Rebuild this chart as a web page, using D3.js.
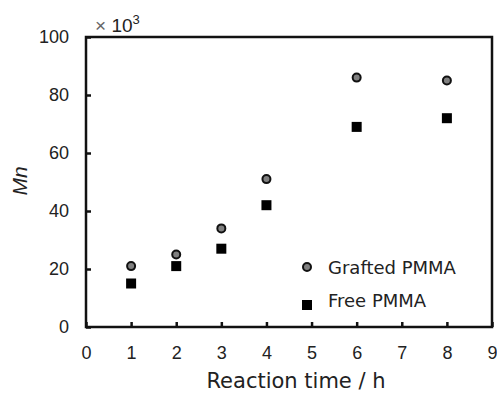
<!DOCTYPE html>
<html lang="en">
<head>
<meta charset="UTF-8">
<title>Mn vs reaction time</title>
<style>
	body { margin: 0; background: #fff; }
	.tick text { font-family: "Liberation Sans", Arial, sans-serif; font-size: 18px; fill: #222; }
	.lbl { font-family: "DejaVu Sans", "Noto Sans CJK JP", sans-serif; fill: #222; }
</style>
</head>
<body>
<script src="https://d3js.org/d3.v7.min.js"></script>
<script>
	// data
	let times = [1, 2, 3, 4, 6, 8];
	let grafted = [21, 25, 34, 51, 86, 85];
	let free = [15, 21, 27, 42, 69, 72];
	let xTicks = [0, 1, 2, 3, 4, 5, 6, 7, 8, 9];
	let yTicks = [0, 20, 40, 60, 80, 100];

	let width = 497, height = 394;
	let padding = { top: 37, right: 5, bottom: 67, left: 86 };
	let w = width - padding.left - padding.right;
	let h = height - padding.top - padding.bottom;

	let svg = d3.select('body').append('svg')
			.attr('width', width)
			.attr('height', height);

	let xScale = d3.scaleLinear().domain([0, 9]).range([0, w]);
	let yScale = d3.scaleLinear().domain([0, 100]).range([h, 0]);

	let g = svg.append('g')
			.attr('transform', 'translate(' + padding.left + ',' + padding.top + ')');

	// frame
	g.append('rect')
			.attr('width', w).attr('height', h)
			.attr('fill', 'none').attr('stroke', '#111').attr('stroke-width', 2.5);

	let xAxis = d3.axisBottom(xScale).tickValues(xTicks).tickSizeInner(-5).tickSizeOuter(0).tickPadding(19);
	let yAxis = d3.axisLeft(yScale).tickValues(yTicks).tickSizeInner(-5).tickSizeOuter(0).tickPadding(17);

	let gx = g.append('g').attr('transform', 'translate(0,' + h + ')').call(xAxis);
	let gy = g.append('g').call(yAxis);
	[gx, gy].forEach(function(a) {
		a.select('.domain').remove();
		a.selectAll('.tick line').attr('stroke', '#111').attr('stroke-width', 2.5);
	});

	// points
	g.selectAll('.free').data(times).enter().append('rect')
			.attr('class', 'free')
			.attr('x', function(d) { return xScale(d) - 5; })
			.attr('y', function(d, i) { return yScale(free[i]) - 5; })
			.attr('width', 10).attr('height', 10)
			.attr('fill', '#000');

	g.selectAll('.graft').data(times).enter().append('circle')
			.attr('class', 'graft')
			.attr('cx', function(d) { return xScale(d); })
			.attr('cy', function(d, i) { return yScale(grafted[i]); })
			.attr('r', 4)
			.attr('fill', '#808080').attr('stroke', '#111').attr('stroke-width', 2);

	// legend
	svg.append('circle').attr('cx', 307).attr('cy', 267).attr('r', 4)
			.attr('fill', '#808080').attr('stroke', '#111').attr('stroke-width', 2);
	svg.append('text').attr('class', 'lbl').attr('x', 328).attr('y', 274)
			.attr('font-size', 18).text('Grafted PMMA');
	svg.append('rect').attr('x', 302).attr('y', 300).attr('width', 10).attr('height', 10).attr('fill', '#000');
	svg.append('text').attr('class', 'lbl').attr('x', 328).attr('y', 307)
			.attr('font-size', 18).text('Free PMMA');

	// axis titles
	svg.append('text').attr('class', 'lbl')
			.attr('x', padding.left + w / 2 + 7).attr('y', 388)
			.attr('text-anchor', 'middle').attr('font-size', 21)
			.text('Reaction time / h');

	svg.append('text')
			.attr('transform', 'translate(27,181) rotate(-90)')
			.attr('text-anchor', 'middle')
			.attr('font-family', '"Liberation Sans", Arial, sans-serif')
			.attr('font-style', 'italic').attr('font-size', 21).attr('fill', '#222')
			.text('Mn');

	let mult = svg.append('text')
			.attr('x', 95).attr('y', 32)
			.attr('font-family', '"Liberation Sans", Arial, sans-serif')
			.attr('font-size', 19).attr('fill', '#222');
	mult.append('tspan').attr('fill', '#666').text('×');
	mult.append('tspan').text(' 10');
	mult.append('tspan').attr('font-size', 13).attr('dy', -8).text('3');
</script>
</body>
</html>
